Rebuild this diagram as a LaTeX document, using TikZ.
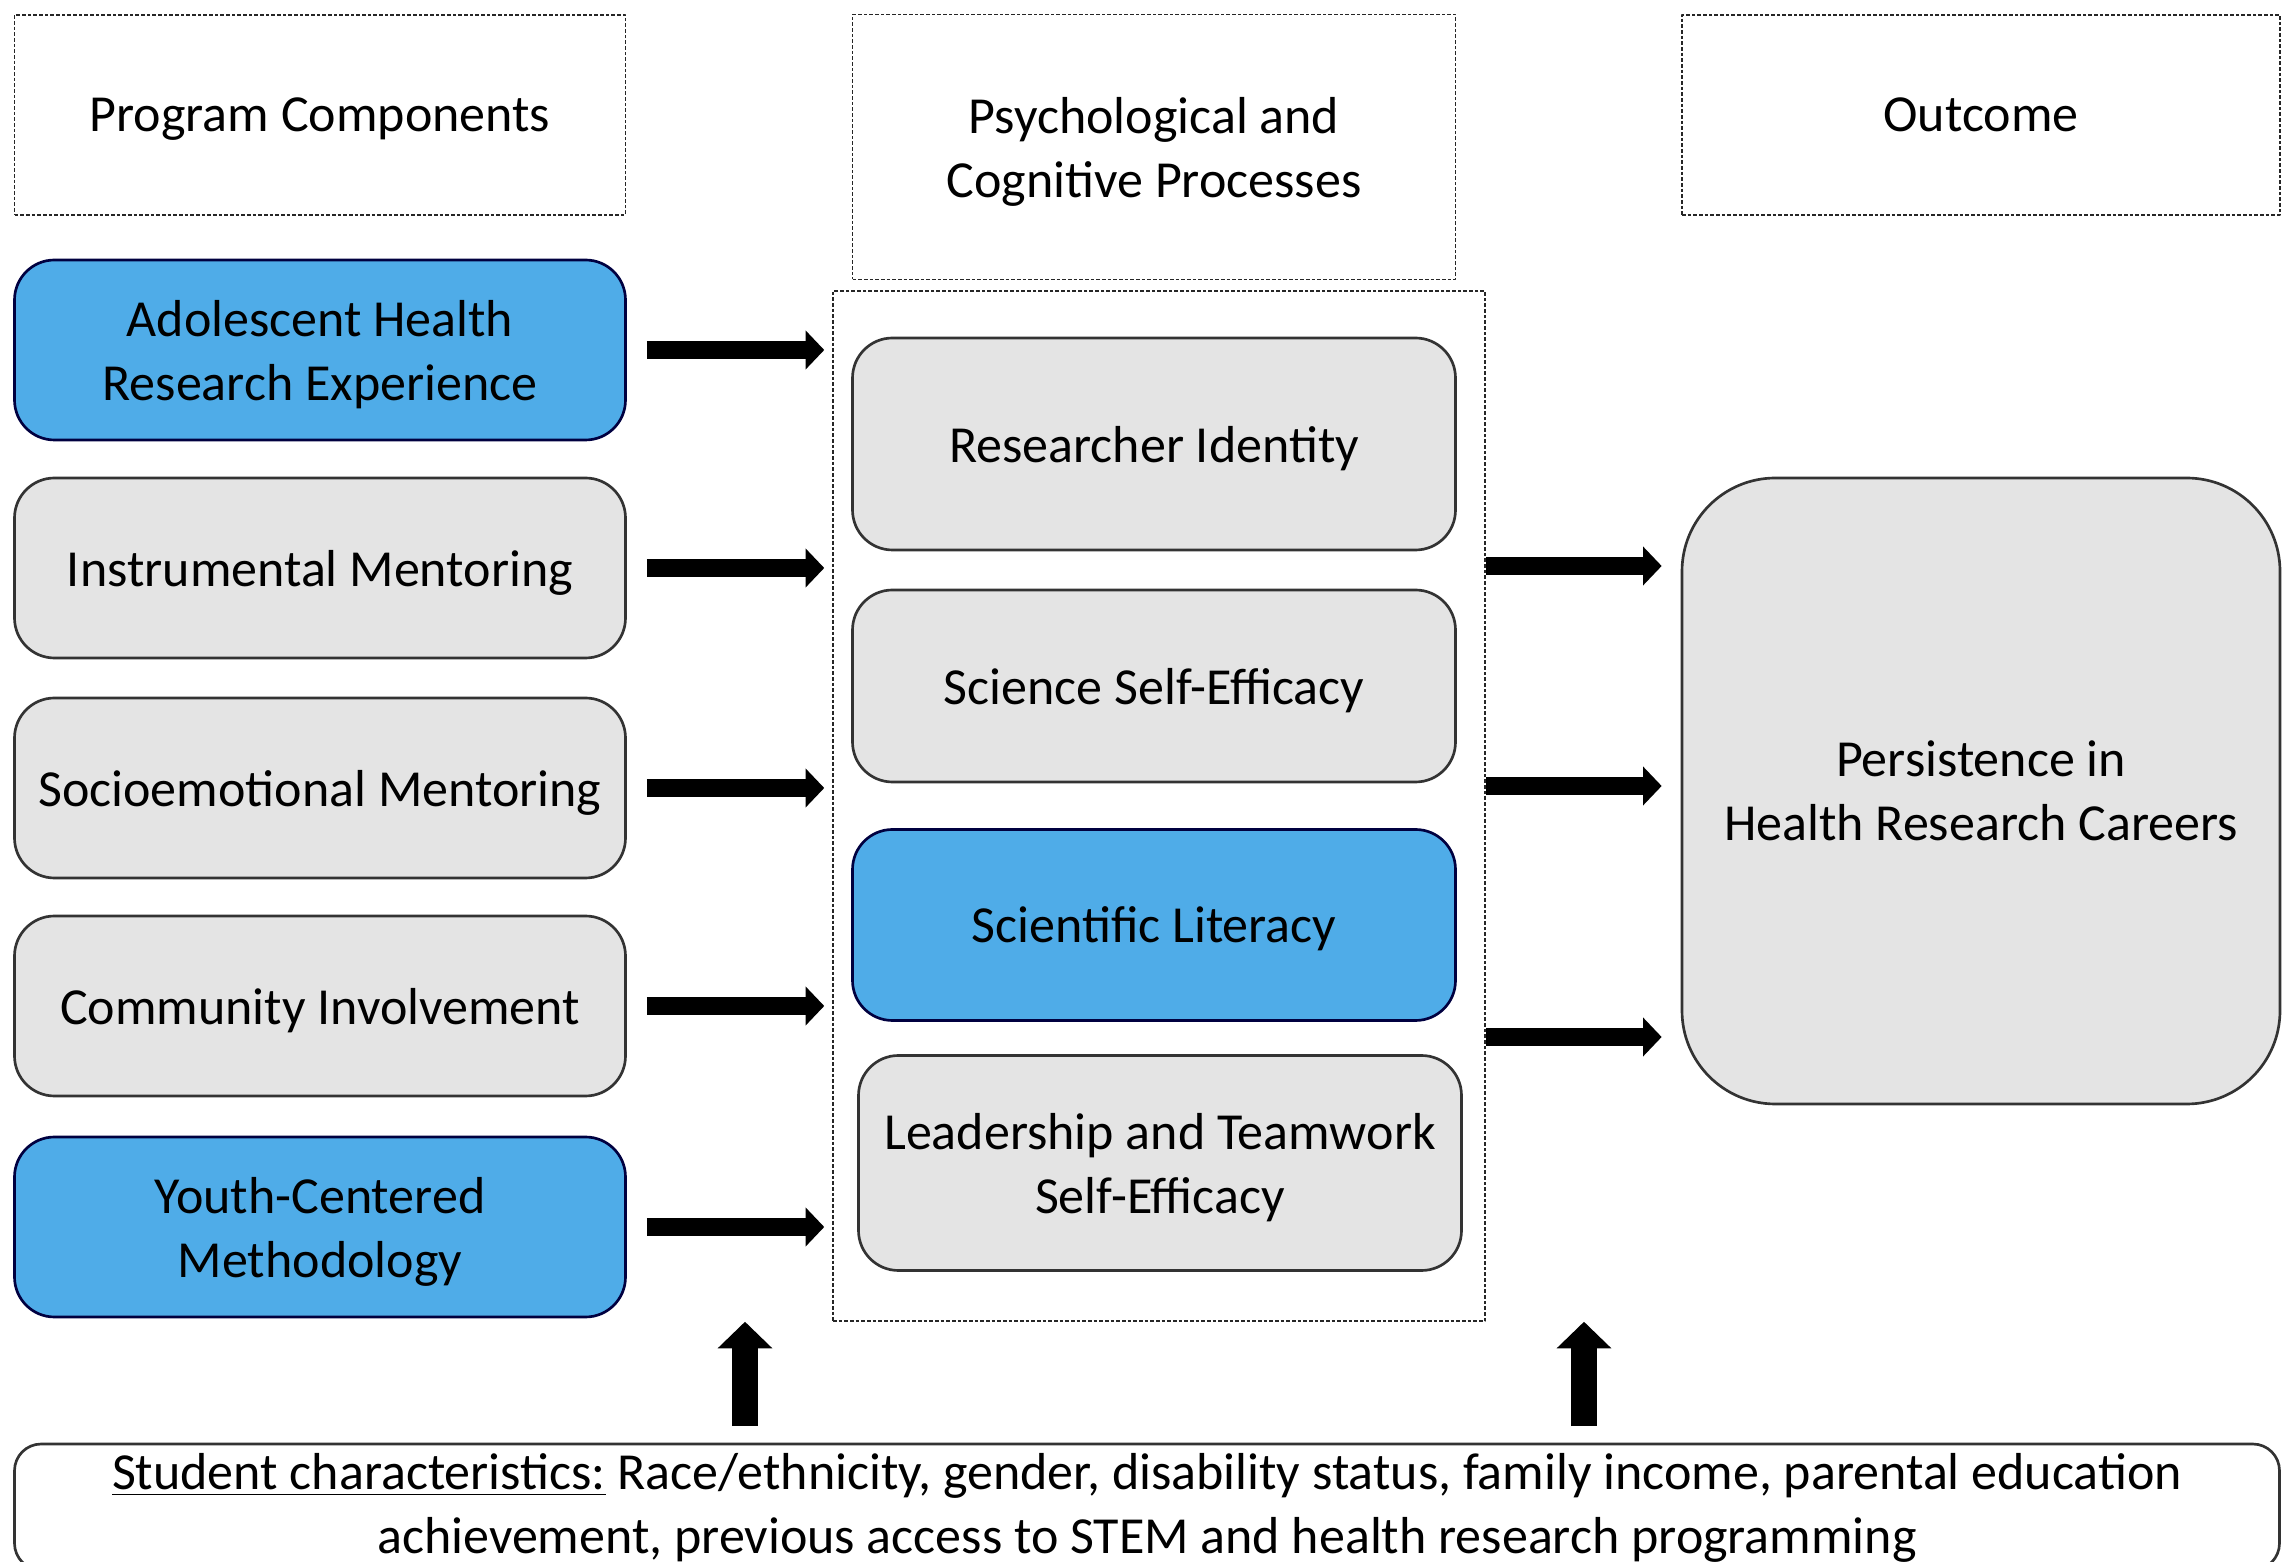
\documentclass[tikz,border=0pt]{standalone}
\usepackage{fontspec}
\setmainfont{Carlito}
\usetikzlibrary{arrows.meta}
\definecolor{boxblue}{HTML}{4FACE8}
\definecolor{boxgrey}{HTML}{E4E4E4}
\begin{document}
\begin{tikzpicture}[x=0.3pt, y=-0.3pt, font=\fontsize{15.6}{19.2}\selectfont, line join=round,
  hbox/.style={draw=black!85, dash pattern=on 1.1pt off 0.6pt, line width=0.45pt, align=center, inner sep=0pt, text depth=0pt},
  compgrey/.style={draw=black!80, line width=0.8pt, fill=boxgrey, rounded corners=12pt, align=center, inner sep=0pt, text depth=0pt},
  compblue/.style={compgrey, fill=boxblue, draw=black!75!blue},
  harrow/.style={line width=5.4pt, line cap=butt, -{Triangle[length=5.6pt, width=11.4pt]}},
  varrow/.style={line width=7.8pt, line cap=butt, -{Triangle[length=8pt, width=16pt]}}]
\useasboundingbox (0,0) rectangle (2283,1562);
% column headers
\node[hbox, minimum width=183.3pt, minimum height=60pt] (hprog) at (320,115) {Program Components};
\node[hbox, minimum width=180.9pt, minimum height=79.5pt] (hproc) at (1154,147) {Psychological and\\Cognitive Processes};
\node[hbox, minimum width=179.4pt, minimum height=60pt] (hout) at (1981,115) {Outcome};
% program components
\foreach \n/\y/\s/\t in {adol/350/compblue/{Adolescent Health\\Research Experience},
  instr/568/compgrey/{Instrumental Mentoring},
  socio/788/compgrey/{Socioemotional Mentoring},
  comm/1006/compgrey/{Community Involvement},
  youth/1227/compblue/{Youth-Centered\\Methodology}}
  \node[\s, minimum width=183.3pt, minimum height=54pt] (\n) at (320,\y) {\t};
% processes
\node[hbox, minimum width=195.6pt, minimum height=309pt] (frame) at (1159,806) {};
\node[compgrey, minimum width=180.9pt, minimum height=63.6pt] (ident) at (1154,444) {Researcher Identity};
\node[compgrey, minimum width=180.9pt, minimum height=57.6pt] (effic) at (1154,686) {Science Self-Efficacy};
\node[compblue, minimum width=180.9pt, minimum height=57.3pt] (liter) at (1154,925) {Scientific Literacy};
\node[compgrey, minimum width=180.9pt, minimum height=64.5pt] (lead) at (1160,1163) {Leadership and Teamwork\\Self-Efficacy};
% outcome
\node[compgrey, rounded corners=28pt, minimum width=179.4pt, minimum height=187.8pt] (outc) at (1981,791) {Persistence in\\Health Research Careers};
% student characteristics
\node[compgrey, fill=white, rounded corners=8pt, text depth=2pt, minimum width=679.5pt, minimum height=37.8pt] (stud) at (1147,1507) {\underline{Student characteristics:} Race/ethnicity, gender, disability status, family income, parental education\\achievement, previous access to STEM and health research programming};
% arrows
\foreach \n in {adol,instr,socio,comm,youth}
  \draw[harrow, shorten <=6pt, shorten >=2.4pt] (\n.east) -- (\n.east -| frame.west);
\foreach \y in {566,786,1037}
  \draw[harrow, shorten >=5.7pt] (frame.east |- 0,\y) -- (outc.west |- 0,\y);
\foreach \x in {745,1584}
  \draw[varrow, shorten <=5pt] (stud.north -| \x,0) -- (frame.south -| \x,0);
\end{tikzpicture}
\end{document}
